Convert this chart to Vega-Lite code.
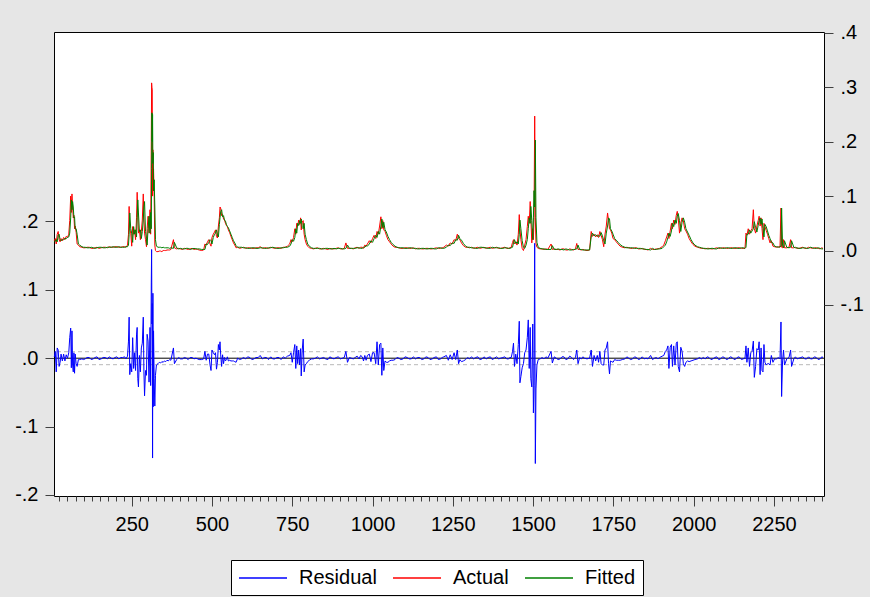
{
"$schema":"https://vega.github.io/schema/vega-lite/v6.json",
"width":770,"height":464,
"autosize":{"type":"none"},
"padding":{"left":54,"top":32,"right":46,"bottom":101},
"background":"#e6e6e6",
"config":{
 "font":"Liberation Sans",
 "view":{"fill":"white","stroke":"black","strokeWidth":1},
 "axis":{"domain":false,"grid":false,"labelFont":"Liberation Sans","labelFontSize":20,"labelColor":"black","tickColor":"#404040","tickWidth":1,"title":null},
 "legend":{"orient":"none","legendX":177,"legendY":528,"direction":"horizontal","columns":3,"strokeColor":"black","fillColor":"white","padding":7,"symbolType":"M-2.4,0L2.4,0","symbolSize":400,"symbolStrokeWidth":1.5,"symbolOffset":14,"labelFont":"Liberation Sans","labelFontSize":20,"labelColor":"black","labelOffset":25,"columnPadding":13,"labelLimit":0}
},
"data":{"values":[
{"t":9,"a":0.018,"f":0.016,"r":0.002},{"t":12,"a":0.022,"f":0.017,"r":0.010},{"t":15,"a":0.012,"f":0.020,"r":-0.020},{"t":18,"a":0.030,"f":0.016,"r":0.015},{"t":21,"a":0.035,"f":0.028,"r":0.012},{"t":24,"a":0.020,"f":0.030,"r":-0.012},{"t":27,"a":0.016,"f":0.020,"r":-0.006},{"t":30,"a":0.022,"f":0.018,"r":0.006},{"t":34,"a":0.018,"f":0.020,"r":-0.004},{"t":38,"a":0.024,"f":0.020,"r":0.006},{"t":42,"a":0.020,"f":0.022,"r":-0.004},{"t":46,"a":0.026,"f":0.022,"r":0.005},{"t":50,"a":0.024,"f":0.024,"r":0.000},{"t":54,"a":0.030,"f":0.025,"r":0.008},{"t":57,"a":0.055,"f":0.032,"r":0.030},{"t":60,"a":0.100,"f":0.060,"r":0.044},{"t":62,"a":0.070,"f":0.093,"r":-0.014},{"t":64,"a":0.104,"f":0.075,"r":0.040},{"t":66,"a":0.080,"f":0.090,"r":-0.010},{"t":68,"a":0.060,"f":0.080,"r":-0.020},{"t":70,"a":0.065,"f":0.060,"r":0.008},{"t":72,"a":0.040,"f":0.062,"r":-0.022},{"t":74,"a":0.045,"f":0.040,"r":0.006},{"t":77,"a":0.033,"f":0.040,"r":-0.008},{"t":80,"a":0.012,"f":0.030,"r":-0.012},{"t":84,"a":0.010,"f":0.012,"r":-0.002},{"t":88,"a":0.007,"f":0.010,"r":-0.002},{"t":95,"a":0.006,"f":0.007,"r":-0.001},
{"t":100,"a":0.005,"f":0.006,"r":-0.002},{"t":105,"a":0.005,"f":0.006,"r":-0.001},{"t":111,"a":0.006,"f":0.005,"r":0.001},{"t":118,"a":0.006,"f":0.005,"r":0.001},{"t":124,"a":0.004,"f":0.006,"r":-0.002},{"t":130,"a":0.004,"f":0.005,"r":-0.001},{"t":136,"a":0.005,"f":0.004,"r":0.001},{"t":142,"a":0.006,"f":0.005,"r":0.002},{"t":148,"a":0.004,"f":0.006,"r":-0.002},{"t":155,"a":0.005,"f":0.006,"r":-0.001},{"t":161,"a":0.006,"f":0.005,"r":0.001},{"t":168,"a":0.006,"f":0.005,"r":0.001},{"t":174,"a":0.005,"f":0.006,"r":-0.001},{"t":180,"a":0.007,"f":0.006,"r":0.002},{"t":186,"a":0.006,"f":0.006,"r":0.000},{"t":192,"a":0.006,"f":0.007,"r":-0.001},{"t":198,"a":0.007,"f":0.006,"r":0.001},{"t":204,"a":0.007,"f":0.006,"r":0.002},{"t":210,"a":0.006,"f":0.007,"r":-0.001},{"t":216,"a":0.006,"f":0.006,"r":0.001},{"t":222,"a":0.007,"f":0.006,"r":0.001},{"t":228,"a":0.007,"f":0.006,"r":0.002},
{"t":232,"a":0.006,"f":0.007,"r":-0.001},{"t":237,"a":0.010,"f":0.007,"r":0.003},{"t":240,"a":0.030,"f":0.010,"r":0.025},{"t":242,"a":0.081,"f":0.030,"r":0.060},{"t":244,"a":0.040,"f":0.069,"r":-0.024},{"t":247,"a":0.032,"f":0.040,"r":-0.008},{"t":250,"a":0.008,"f":0.032,"r":-0.020},{"t":253,"a":0.044,"f":0.015,"r":0.030},{"t":256,"a":0.030,"f":0.044,"r":-0.015},{"t":259,"a":0.038,"f":0.030,"r":0.008},{"t":262,"a":0.020,"f":0.038,"r":-0.018},{"t":265,"a":0.060,"f":0.025,"r":0.034},{"t":267,"a":0.107,"f":0.060,"r":0.045},{"t":269,"a":0.069,"f":0.093,"r":-0.030},{"t":271,"a":0.032,"f":0.069,"r":-0.042},{"t":274,"a":0.038,"f":0.035,"r":0.004},{"t":277,"a":0.020,"f":0.038,"r":-0.020},{"t":280,"a":0.035,"f":0.022,"r":0.015},{"t":283,"a":0.056,"f":0.035,"r":0.022},{"t":286,"a":0.104,"f":0.056,"r":0.060},{"t":288,"a":0.060,"f":0.080,"r":-0.020},{"t":290,"a":0.032,"f":0.090,"r":-0.055},{"t":293,"a":0.020,"f":0.035,"r":-0.018},{"t":296,"a":0.007,"f":0.022,"r":-0.025},{"t":298,"a":0.040,"f":0.010,"r":0.035},{"t":301,"a":0.063,"f":0.040,"r":0.025},{"t":304,"a":0.032,"f":0.063,"r":-0.035},{"t":307,"a":0.075,"f":0.032,"r":0.045},{"t":309,"a":0.030,"f":0.070,"r":-0.040},{"t":311,"a":0.200,"f":0.040,"r":0.110},{"t":312,"a":0.308,"f":0.150,"r":0.159},{"t":313,"a":0.300,"f":0.253,"r":0.050},{"t":314,"a":0.295,"f":0.200,"r":0.080},{"t":315,"a":0.100,"f":0.250,"r":-0.146},{"t":316,"a":0.185,"f":0.160,"r":0.095},{"t":317,"a":0.110,"f":0.180,"r":-0.071},{"t":318,"a":0.150,"f":0.110,"r":0.040},{"t":320,"a":0.100,"f":0.130,"r":-0.030},{"t":322,"a":0.010,"f":0.080,"r":-0.070},{"t":324,"a":0.000,"f":0.020,"r":-0.025},{"t":327,"a":-0.002,"f":0.008,"r":-0.010},
{"t":332,"a":-0.002,"f":0.006,"r":-0.008},{"t":336,"a":-0.001,"f":0.006,"r":-0.006},{"t":340,"a":-0.001,"f":0.006,"r":-0.007},{"t":344,"a":-0.002,"f":0.005,"r":-0.005},{"t":348,"a":0.000,"f":0.006,"r":-0.006},{"t":352,"a":0.000,"f":0.005,"r":-0.004},{"t":356,"a":0.000,"f":0.005,"r":-0.005},{"t":360,"a":0.001,"f":0.005,"r":-0.003},{"t":364,"a":0.001,"f":0.005,"r":-0.004},{"t":368,"a":0.001,"f":0.004,"r":-0.002},{"t":372,"a":0.002,"f":0.005,"r":-0.003},{"t":380,"a":0.020,"f":0.004,"r":0.015},{"t":383,"a":0.005,"f":0.015,"r":-0.008},{"t":390,"a":0.003,"f":0.005,"r":-0.002},{"t":396,"a":0.004,"f":0.003,"r":0.001},{"t":402,"a":0.003,"f":0.004,"r":-0.001},{"t":408,"a":0.002,"f":0.003,"r":-0.001},{"t":414,"a":0.004,"f":0.003,"r":0.001},{"t":420,"a":0.003,"f":0.004,"r":0.000},{"t":426,"a":0.002,"f":0.004,"r":-0.002},{"t":432,"a":0.003,"f":0.002,"r":0.001},{"t":438,"a":0.004,"f":0.003,"r":0.001},{"t":444,"a":0.002,"f":0.004,"r":-0.001},{"t":450,"a":0.003,"f":0.003,"r":0.000},{"t":455,"a":0.002,"f":0.003,"r":-0.001},{"t":460,"a":0.001,"f":0.003,"r":-0.002},{"t":468,"a":0.000,"f":0.002,"r":-0.002},
{"t":474,"a":0.001,"f":0.002,"r":-0.001},{"t":478,"a":0.012,"f":0.002,"r":0.010},{"t":482,"a":0.010,"f":0.012,"r":-0.003},{"t":486,"a":0.016,"f":0.011,"r":0.006},{"t":490,"a":0.020,"f":0.015,"r":0.006},{"t":494,"a":0.012,"f":0.020,"r":-0.010},{"t":497,"a":0.008,"f":0.018,"r":-0.018},{"t":500,"a":0.024,"f":0.012,"r":0.012},{"t":504,"a":0.030,"f":0.024,"r":0.008},{"t":508,"a":0.034,"f":0.030,"r":0.005},{"t":511,"a":0.038,"f":0.032,"r":0.008},{"t":514,"a":0.026,"f":0.038,"r":-0.016},{"t":517,"a":0.023,"f":0.028,"r":-0.006},{"t":520,"a":0.045,"f":0.025,"r":0.020},{"t":523,"a":0.060,"f":0.048,"r":0.012},{"t":525,"a":0.080,"f":0.060,"r":0.024},{"t":527,"a":0.078,"f":0.071,"r":0.006},{"t":530,"a":0.064,"f":0.075,"r":-0.012},{"t":533,"a":0.066,"f":0.062,"r":0.005},{"t":536,"a":0.058,"f":0.064,"r":-0.008},{"t":539,"a":0.056,"f":0.056,"r":0.001},{"t":542,"a":0.050,"f":0.054,"r":-0.004},{"t":545,"a":0.046,"f":0.048,"r":-0.002},{"t":548,"a":0.044,"f":0.044,"r":0.002},{"t":551,"a":0.038,"f":0.042,"r":-0.004},{"t":555,"a":0.033,"f":0.036,"r":-0.003},{"t":559,"a":0.026,"f":0.030,"r":-0.004},{"t":563,"a":0.020,"f":0.024,"r":-0.004},{"t":567,"a":0.014,"f":0.018,"r":-0.004},{"t":571,"a":0.010,"f":0.014,"r":-0.005},{"t":575,"a":0.005,"f":0.009,"r":-0.006},{"t":580,"a":0.006,"f":0.006,"r":0.000},
{"t":586,"a":0.004,"f":0.006,"r":-0.002},{"t":592,"a":0.005,"f":0.006,"r":-0.001},{"t":598,"a":0.006,"f":0.005,"r":0.001},{"t":605,"a":0.004,"f":0.005,"r":-0.001},{"t":611,"a":0.005,"f":0.004,"r":0.002},{"t":618,"a":0.005,"f":0.004,"r":0.001},{"t":624,"a":0.004,"f":0.005,"r":-0.002},{"t":631,"a":0.004,"f":0.005,"r":-0.001},{"t":637,"a":0.005,"f":0.004,"r":0.001},{"t":644,"a":0.005,"f":0.004,"r":0.001},{"t":650,"a":0.007,"f":0.005,"r":0.004},{"t":657,"a":0.004,"f":0.005,"r":-0.001},{"t":663,"a":0.005,"f":0.004,"r":0.001},{"t":670,"a":0.005,"f":0.004,"r":0.001},{"t":676,"a":0.004,"f":0.005,"r":-0.002},{"t":683,"a":0.006,"f":0.005,"r":0.002},{"t":689,"a":0.005,"f":0.006,"r":-0.001},{"t":696,"a":0.004,"f":0.005,"r":-0.001},{"t":702,"a":0.005,"f":0.004,"r":0.001},{"t":709,"a":0.005,"f":0.004,"r":0.001},{"t":715,"a":0.004,"f":0.005,"r":-0.002},{"t":722,"a":0.006,"f":0.005,"r":0.002},{"t":728,"a":0.006,"f":0.006,"r":0.000},{"t":735,"a":0.008,"f":0.006,"r":0.003},
{"t":742,"a":0.012,"f":0.008,"r":0.004},{"t":746,"a":0.020,"f":0.012,"r":0.008},{"t":750,"a":0.016,"f":0.020,"r":-0.006},{"t":754,"a":0.024,"f":0.017,"r":0.008},{"t":758,"a":0.040,"f":0.024,"r":0.020},{"t":761,"a":0.030,"f":0.040,"r":-0.015},{"t":764,"a":0.050,"f":0.032,"r":0.018},{"t":767,"a":0.045,"f":0.050,"r":-0.008},{"t":770,"a":0.056,"f":0.046,"r":0.012},{"t":773,"a":0.048,"f":0.055,"r":-0.010},{"t":776,"a":0.060,"f":0.050,"r":0.014},{"t":778,"a":0.038,"f":0.058,"r":-0.026},{"t":781,"a":0.052,"f":0.042,"r":0.012},{"t":784,"a":0.055,"f":0.040,"r":0.028},{"t":787,"a":0.030,"f":0.050,"r":-0.020},{"t":790,"a":0.020,"f":0.030,"r":-0.010},{"t":794,"a":0.012,"f":0.020,"r":-0.008},{"t":798,"a":0.008,"f":0.012,"r":-0.005},{"t":803,"a":0.005,"f":0.008,"r":-0.003},{"t":810,"a":0.004,"f":0.005,"r":-0.001},
{"t":816,"a":0.003,"f":0.004,"r":-0.001},{"t":822,"a":0.004,"f":0.004,"r":0.000},{"t":828,"a":0.005,"f":0.004,"r":0.002},{"t":835,"a":0.003,"f":0.004,"r":-0.001},{"t":841,"a":0.003,"f":0.003,"r":0.000},{"t":848,"a":0.004,"f":0.003,"r":0.001},{"t":854,"a":0.003,"f":0.004,"r":-0.001},{"t":861,"a":0.002,"f":0.004,"r":-0.002},{"t":867,"a":0.004,"f":0.003,"r":0.002},{"t":874,"a":0.003,"f":0.003,"r":0.000},{"t":880,"a":0.003,"f":0.004,"r":-0.001},{"t":887,"a":0.004,"f":0.003,"r":0.001},{"t":893,"a":0.005,"f":0.004,"r":0.002},{"t":900,"a":0.003,"f":0.004,"r":-0.001},{"t":906,"a":0.003,"f":0.003,"r":0.000},{"t":912,"a":0.004,"f":0.003,"r":0.001},{"t":917,"a":0.014,"f":0.004,"r":0.010},{"t":922,"a":0.004,"f":0.010,"r":-0.006},{"t":928,"a":0.004,"f":0.004,"r":0.001},{"t":934,"a":0.004,"f":0.004,"r":0.000},{"t":940,"a":0.003,"f":0.004,"r":-0.001},{"t":946,"a":0.005,"f":0.004,"r":0.001},{"t":952,"a":0.006,"f":0.005,"r":0.003},{"t":958,"a":0.004,"f":0.005,"r":-0.001},{"t":963,"a":0.006,"f":0.004,"r":0.004},{"t":968,"a":0.006,"f":0.004,"r":0.002},{"t":972,"a":0.004,"f":0.006,"r":-0.004},{"t":976,"a":0.010,"f":0.006,"r":0.004},{"t":980,"a":0.008,"f":0.009,"r":-0.003},
{"t":984,"a":0.012,"f":0.008,"r":0.004},{"t":990,"a":0.018,"f":0.012,"r":0.006},{"t":995,"a":0.014,"f":0.018,"r":-0.005},{"t":1000,"a":0.022,"f":0.015,"r":0.008},{"t":1005,"a":0.028,"f":0.022,"r":0.008},{"t":1010,"a":0.022,"f":0.028,"r":-0.008},{"t":1014,"a":0.035,"f":0.024,"r":0.024},{"t":1018,"a":0.030,"f":0.035,"r":-0.010},{"t":1022,"a":0.045,"f":0.030,"r":0.020},{"t":1026,"a":0.062,"f":0.045,"r":0.022},{"t":1029,"a":0.040,"f":0.058,"r":-0.025},{"t":1032,"a":0.055,"f":0.042,"r":0.015},{"t":1035,"a":0.038,"f":0.052,"r":-0.018},{"t":1039,"a":0.035,"f":0.038,"r":-0.004},{"t":1043,"a":0.028,"f":0.034,"r":-0.006},{"t":1048,"a":0.020,"f":0.026,"r":-0.006},{"t":1053,"a":0.016,"f":0.020,"r":-0.004},{"t":1058,"a":0.012,"f":0.015,"r":-0.003},{"t":1064,"a":0.008,"f":0.011,"r":-0.003},{"t":1070,"a":0.006,"f":0.008,"r":-0.002},
{"t":1076,"a":0.006,"f":0.006,"r":0.001},{"t":1082,"a":0.005,"f":0.005,"r":0.000},{"t":1088,"a":0.004,"f":0.005,"r":-0.002},{"t":1095,"a":0.004,"f":0.005,"r":-0.001},{"t":1101,"a":0.005,"f":0.004,"r":0.002},{"t":1108,"a":0.005,"f":0.004,"r":0.001},{"t":1114,"a":0.004,"f":0.005,"r":-0.001},{"t":1121,"a":0.004,"f":0.005,"r":-0.001},{"t":1127,"a":0.005,"f":0.004,"r":0.002},{"t":1134,"a":0.003,"f":0.004,"r":-0.001},{"t":1140,"a":0.004,"f":0.003,"r":0.001},{"t":1147,"a":0.004,"f":0.003,"r":0.001},{"t":1153,"a":0.003,"f":0.004,"r":-0.002},{"t":1160,"a":0.003,"f":0.004,"r":-0.001},{"t":1166,"a":0.004,"f":0.003,"r":0.002},{"t":1173,"a":0.004,"f":0.003,"r":0.001},{"t":1179,"a":0.003,"f":0.004,"r":-0.002},{"t":1186,"a":0.003,"f":0.004,"r":-0.001},{"t":1192,"a":0.004,"f":0.003,"r":0.001},{"t":1199,"a":0.005,"f":0.003,"r":0.002},{"t":1205,"a":0.004,"f":0.005,"r":-0.002},{"t":1212,"a":0.004,"f":0.005,"r":-0.001},{"t":1217,"a":0.005,"f":0.004,"r":0.001},{"t":1222,"a":0.006,"f":0.004,"r":0.002},
{"t":1230,"a":0.010,"f":0.006,"r":0.004},{"t":1236,"a":0.008,"f":0.010,"r":-0.003},{"t":1242,"a":0.014,"f":0.009,"r":0.005},{"t":1248,"a":0.012,"f":0.014,"r":-0.002},{"t":1254,"a":0.020,"f":0.013,"r":0.008},{"t":1259,"a":0.018,"f":0.020,"r":-0.002},{"t":1264,"a":0.030,"f":0.019,"r":0.012},{"t":1268,"a":0.022,"f":0.028,"r":-0.008},{"t":1272,"a":0.020,"f":0.022,"r":-0.002},{"t":1277,"a":0.014,"f":0.019,"r":-0.005},{"t":1283,"a":0.009,"f":0.013,"r":-0.004},{"t":1290,"a":0.006,"f":0.008,"r":-0.002},
{"t":1296,"a":0.006,"f":0.006,"r":0.001},{"t":1302,"a":0.005,"f":0.006,"r":-0.001},{"t":1308,"a":0.006,"f":0.005,"r":0.002},{"t":1315,"a":0.004,"f":0.005,"r":-0.001},{"t":1321,"a":0.005,"f":0.004,"r":0.001},{"t":1328,"a":0.006,"f":0.004,"r":0.002},{"t":1334,"a":0.004,"f":0.006,"r":-0.002},{"t":1341,"a":0.005,"f":0.006,"r":-0.001},{"t":1347,"a":0.006,"f":0.005,"r":0.002},{"t":1354,"a":0.004,"f":0.005,"r":-0.001},{"t":1360,"a":0.005,"f":0.004,"r":0.001},{"t":1367,"a":0.006,"f":0.004,"r":0.002},{"t":1373,"a":0.004,"f":0.006,"r":-0.002},{"t":1380,"a":0.005,"f":0.005,"r":0.000},{"t":1386,"a":0.006,"f":0.005,"r":0.002},{"t":1393,"a":0.004,"f":0.005,"r":-0.001},{"t":1399,"a":0.004,"f":0.004,"r":0.000},{"t":1406,"a":0.005,"f":0.004,"r":0.001},{"t":1412,"a":0.006,"f":0.005,"r":0.002},{"t":1418,"a":0.004,"f":0.005,"r":-0.001},{"t":1423,"a":0.004,"f":0.004,"r":-0.001},{"t":1428,"a":0.005,"f":0.004,"r":0.001},
{"t":1432,"a":0.006,"f":0.005,"r":0.001},{"t":1436,"a":0.015,"f":0.006,"r":0.010},{"t":1439,"a":0.020,"f":0.014,"r":0.022},{"t":1442,"a":0.012,"f":0.020,"r":-0.012},{"t":1446,"a":0.016,"f":0.013,"r":0.006},{"t":1450,"a":0.010,"f":0.016,"r":-0.008},{"t":1454,"a":0.030,"f":0.012,"r":0.020},{"t":1457,"a":0.066,"f":0.030,"r":0.054},{"t":1459,"a":0.040,"f":0.056,"r":-0.036},{"t":1462,"a":0.020,"f":0.040,"r":-0.027},{"t":1466,"a":0.004,"f":0.018,"r":-0.014},{"t":1470,"a":0.000,"f":0.006,"r":-0.008},{"t":1474,"a":0.010,"f":0.004,"r":0.008},{"t":1478,"a":0.020,"f":0.010,"r":0.012},{"t":1482,"a":0.044,"f":0.020,"r":0.030},{"t":1485,"a":0.063,"f":0.040,"r":0.056},{"t":1488,"a":0.050,"f":0.060,"r":-0.015},{"t":1491,"a":0.090,"f":0.050,"r":0.045},{"t":1493,"a":0.060,"f":0.081,"r":-0.030},{"t":1496,"a":0.014,"f":0.055,"r":-0.042},{"t":1499,"a":0.040,"f":0.020,"r":0.050},{"t":1501,"a":0.020,"f":0.060,"r":-0.080},{"t":1503,"a":0.060,"f":0.110,"r":-0.040},{"t":1505,"a":0.247,"f":0.080,"r":0.168},{"t":1507,"a":0.060,"f":0.203,"r":-0.154},{"t":1509,"a":0.013,"f":0.060,"r":-0.045},{"t":1512,"a":0.006,"f":0.015,"r":-0.010},{"t":1516,"a":0.004,"f":0.006,"r":-0.002},{"t":1522,"a":0.003,"f":0.004,"r":-0.001},
{"t":1528,"a":0.003,"f":0.003,"r":0.001},{"t":1534,"a":0.002,"f":0.003,"r":-0.001},{"t":1540,"a":0.003,"f":0.002,"r":0.002},{"t":1546,"a":0.002,"f":0.002,"r":0.000},{"t":1556,"a":0.012,"f":0.002,"r":0.010},{"t":1560,"a":0.002,"f":0.009,"r":-0.007},{"t":1566,"a":0.003,"f":0.002,"r":0.002},{"t":1572,"a":0.002,"f":0.002,"r":0.000},{"t":1578,"a":0.002,"f":0.003,"r":-0.002},{"t":1584,"a":0.001,"f":0.002,"r":-0.001},{"t":1590,"a":0.003,"f":0.002,"r":0.002},{"t":1596,"a":0.003,"f":0.001,"r":0.002},{"t":1602,"a":0.001,"f":0.003,"r":-0.002},{"t":1608,"a":0.001,"f":0.002,"r":-0.001},{"t":1614,"a":0.003,"f":0.001,"r":0.003},{"t":1620,"a":0.002,"f":0.001,"r":0.001},{"t":1626,"a":0.001,"f":0.002,"r":-0.002},{"t":1632,"a":0.003,"f":0.002,"r":0.001},{"t":1636,"a":0.013,"f":0.003,"r":0.012},{"t":1640,"a":0.002,"f":0.010,"r":-0.008},{"t":1645,"a":0.002,"f":0.002,"r":0.001},{"t":1650,"a":0.001,"f":0.002,"r":-0.001},{"t":1655,"a":0.002,"f":0.001,"r":0.002},{"t":1660,"a":0.001,"f":0.001,"r":0.000},{"t":1668,"a":0.000,"f":0.001,"r":-0.001},
{"t":1676,"a":0.001,"f":0.001,"r":0.000},{"t":1681,"a":0.035,"f":0.025,"r":0.012},{"t":1685,"a":0.026,"f":0.032,"r":-0.012},{"t":1690,"a":0.030,"f":0.027,"r":0.004},{"t":1695,"a":0.025,"f":0.029,"r":-0.004},{"t":1700,"a":0.029,"f":0.026,"r":0.004},{"t":1704,"a":0.024,"f":0.028,"r":-0.006},{"t":1708,"a":0.035,"f":0.026,"r":0.010},{"t":1712,"a":0.028,"f":0.033,"r":-0.008},{"t":1716,"a":0.020,"f":0.027,"r":-0.010},{"t":1720,"a":0.007,"f":0.018,"r":-0.010},{"t":1724,"a":0.030,"f":0.012,"r":0.012},{"t":1728,"a":0.045,"f":0.032,"r":0.015},{"t":1732,"a":0.069,"f":0.045,"r":0.024},{"t":1735,"a":0.055,"f":0.060,"r":-0.008},{"t":1738,"a":0.040,"f":0.058,"r":-0.023},{"t":1741,"a":0.038,"f":0.040,"r":-0.004},{"t":1745,"a":0.032,"f":0.036,"r":-0.005},{"t":1749,"a":0.022,"f":0.030,"r":-0.006},{"t":1754,"a":0.020,"f":0.022,"r":-0.002},{"t":1759,"a":0.016,"f":0.019,"r":-0.003},{"t":1765,"a":0.012,"f":0.015,"r":-0.003},{"t":1771,"a":0.008,"f":0.011,"r":-0.003},{"t":1778,"a":0.006,"f":0.008,"r":-0.002},{"t":1786,"a":0.005,"f":0.006,"r":-0.001},
{"t":1792,"a":0.006,"f":0.005,"r":0.002},{"t":1798,"a":0.005,"f":0.005,"r":0.000},{"t":1804,"a":0.004,"f":0.005,"r":-0.002},{"t":1810,"a":0.004,"f":0.005,"r":-0.001},{"t":1816,"a":0.005,"f":0.004,"r":0.002},{"t":1822,"a":0.005,"f":0.004,"r":0.001},{"t":1828,"a":0.003,"f":0.004,"r":-0.002},{"t":1834,"a":0.003,"f":0.004,"r":-0.001},{"t":1840,"a":0.004,"f":0.003,"r":0.002},{"t":1846,"a":0.002,"f":0.003,"r":-0.001},{"t":1852,"a":0.002,"f":0.002,"r":0.000},{"t":1858,"a":0.001,"f":0.002,"r":-0.001},{"t":1866,"a":0.004,"f":0.001,"r":0.004},{"t":1872,"a":0.002,"f":0.004,"r":-0.002},{"t":1878,"a":0.002,"f":0.002,"r":0.000},{"t":1884,"a":0.003,"f":0.002,"r":0.001},{"t":1889,"a":0.003,"f":0.003,"r":-0.001},{"t":1894,"a":0.004,"f":0.003,"r":0.001},
{"t":1902,"a":0.007,"f":0.004,"r":0.003},{"t":1907,"a":0.010,"f":0.007,"r":0.004},{"t":1912,"a":0.018,"f":0.010,"r":0.010},{"t":1916,"a":0.025,"f":0.016,"r":0.012},{"t":1920,"a":0.032,"f":0.024,"r":0.018},{"t":1923,"a":0.022,"f":0.032,"r":-0.015},{"t":1927,"a":0.036,"f":0.026,"r":0.016},{"t":1931,"a":0.050,"f":0.036,"r":0.020},{"t":1934,"a":0.040,"f":0.050,"r":-0.012},{"t":1938,"a":0.056,"f":0.044,"r":0.018},{"t":1942,"a":0.048,"f":0.056,"r":-0.010},{"t":1946,"a":0.065,"f":0.050,"r":0.022},{"t":1949,"a":0.072,"f":0.063,"r":0.024},{"t":1952,"a":0.060,"f":0.068,"r":-0.012},{"t":1956,"a":0.032,"f":0.055,"r":-0.020},{"t":1960,"a":0.050,"f":0.035,"r":0.016},{"t":1964,"a":0.060,"f":0.052,"r":0.010},{"t":1968,"a":0.055,"f":0.060,"r":-0.008},{"t":1972,"a":0.040,"f":0.052,"r":-0.012},{"t":1976,"a":0.036,"f":0.040,"r":-0.006},{"t":1981,"a":0.030,"f":0.034,"r":-0.004},{"t":1986,"a":0.022,"f":0.028,"r":-0.005},{"t":1992,"a":0.016,"f":0.020,"r":-0.004},{"t":1998,"a":0.011,"f":0.014,"r":-0.003},{"t":2004,"a":0.008,"f":0.010,"r":-0.002},{"t":2012,"a":0.006,"f":0.007,"r":-0.001},
{"t":2018,"a":0.005,"f":0.006,"r":0.001},{"t":2024,"a":0.004,"f":0.005,"r":-0.001},{"t":2030,"a":0.004,"f":0.004,"r":0.001},{"t":2036,"a":0.003,"f":0.004,"r":-0.001},{"t":2042,"a":0.004,"f":0.003,"r":0.002},{"t":2048,"a":0.004,"f":0.003,"r":0.001},{"t":2054,"a":0.003,"f":0.004,"r":-0.002},{"t":2060,"a":0.003,"f":0.004,"r":-0.001},{"t":2066,"a":0.004,"f":0.003,"r":0.001},{"t":2072,"a":0.005,"f":0.003,"r":0.002},{"t":2078,"a":0.004,"f":0.005,"r":-0.002},{"t":2084,"a":0.004,"f":0.005,"r":-0.001},{"t":2090,"a":0.005,"f":0.004,"r":0.002},{"t":2096,"a":0.005,"f":0.004,"r":0.001},{"t":2102,"a":0.004,"f":0.005,"r":-0.002},{"t":2108,"a":0.004,"f":0.005,"r":-0.001},{"t":2114,"a":0.005,"f":0.004,"r":0.002},{"t":2120,"a":0.005,"f":0.004,"r":0.001},{"t":2126,"a":0.004,"f":0.005,"r":-0.002},{"t":2132,"a":0.004,"f":0.005,"r":-0.001},{"t":2138,"a":0.005,"f":0.004,"r":0.002},{"t":2144,"a":0.005,"f":0.004,"r":0.001},{"t":2149,"a":0.004,"f":0.005,"r":-0.002},{"t":2154,"a":0.004,"f":0.005,"r":-0.001},
{"t":2160,"a":0.004,"f":0.004,"r":0.000},{"t":2163,"a":0.032,"f":0.006,"r":0.018},{"t":2166,"a":0.028,"f":0.030,"r":-0.006},{"t":2170,"a":0.040,"f":0.030,"r":0.015},{"t":2174,"a":0.030,"f":0.038,"r":-0.012},{"t":2178,"a":0.036,"f":0.032,"r":0.008},{"t":2182,"a":0.040,"f":0.036,"r":0.010},{"t":2186,"a":0.075,"f":0.040,"r":0.025},{"t":2189,"a":0.040,"f":0.053,"r":-0.028},{"t":2193,"a":0.032,"f":0.042,"r":-0.012},{"t":2197,"a":0.045,"f":0.034,"r":0.014},{"t":2201,"a":0.055,"f":0.046,"r":0.012},{"t":2204,"a":0.063,"f":0.055,"r":0.024},{"t":2207,"a":0.045,"f":0.060,"r":-0.024},{"t":2210,"a":0.060,"f":0.048,"r":0.015},{"t":2213,"a":0.040,"f":0.058,"r":-0.018},{"t":2216,"a":0.020,"f":0.040,"r":-0.020},{"t":2219,"a":0.050,"f":0.025,"r":0.020},{"t":2222,"a":0.044,"f":0.048,"r":-0.006},{"t":2226,"a":0.037,"f":0.044,"r":-0.010},{"t":2230,"a":0.030,"f":0.036,"r":-0.008},{"t":2234,"a":0.022,"f":0.028,"r":-0.008},{"t":2238,"a":0.014,"f":0.022,"r":-0.010},{"t":2242,"a":0.018,"f":0.015,"r":0.004},{"t":2247,"a":0.008,"f":0.014,"r":-0.006},{"t":2252,"a":0.007,"f":0.008,"r":-0.001},{"t":2258,"a":0.006,"f":0.007,"r":-0.001},{"t":2264,"a":0.007,"f":0.006,"r":0.001},{"t":2269,"a":0.006,"f":0.007,"r":-0.001},{"t":2272,"a":0.078,"f":0.008,"r":0.053},{"t":2274,"a":0.006,"f":0.078,"r":-0.056},{"t":2277,"a":0.005,"f":0.010,"r":-0.004},{"t":2280,"a":0.020,"f":0.005,"r":0.012},{"t":2283,"a":0.005,"f":0.018,"r":-0.010},{"t":2290,"a":0.005,"f":0.006,"r":-0.001},{"t":2297,"a":0.006,"f":0.005,"r":0.001},{"t":2302,"a":0.020,"f":0.006,"r":0.012},{"t":2305,"a":0.005,"f":0.018,"r":-0.012},{"t":2312,"a":0.005,"f":0.006,"r":-0.001},{"t":2317,"a":0.006,"f":0.005,"r":0.002},{"t":2322,"a":0.004,"f":0.005,"r":-0.001},{"t":2328,"a":0.004,"f":0.004,"r":0.000},{"t":2334,"a":0.005,"f":0.004,"r":0.001},{"t":2340,"a":0.006,"f":0.005,"r":0.002},{"t":2346,"a":0.004,"f":0.005,"r":-0.001},{"t":2352,"a":0.004,"f":0.004,"r":-0.001},{"t":2358,"a":0.006,"f":0.004,"r":0.002},{"t":2364,"a":0.005,"f":0.006,"r":-0.001},{"t":2370,"a":0.004,"f":0.005,"r":-0.001},{"t":2376,"a":0.005,"f":0.004,"r":0.002},{"t":2382,"a":0.005,"f":0.004,"r":0.001},{"t":2388,"a":0.004,"f":0.005,"r":-0.002},{"t":2394,"a":0.003,"f":0.004,"r":-0.001},{"t":2399,"a":0.005,"f":0.003,"r":0.002},{"t":2403,"a":0.004,"f":0.003,"r":0.001}
]},
"layer":[
 {"layer":[
  {"data":{"values":[{}]},"mark":{"type":"rule","color":"#b8b8b8","strokeDash":[4,3],"strokeWidth":1},
   "encoding":{"y":{"datum":0.0095,"type":"quantitative","scale":{"domain":[-0.2015,0.477],"nice":false,"zero":false},"axis":{"orient":"left","values":[-0.2,-0.1,0,0.1,0.2],"labelExpr":"datum.value < 0 ? '-' + replace(format(-datum.value,'.1f'),'0.','.') : replace(format(datum.value,'.1f'),'0.','.')","tickSize":9,"labelPadding":7}}}},
  {"data":{"values":[{}]},"mark":{"type":"rule","color":"#b8b8b8","strokeDash":[4,3],"strokeWidth":1},
   "encoding":{"y":{"datum":-0.0095,"type":"quantitative","scale":{"domain":[-0.2015,0.477],"nice":false,"zero":false},"axis":{"orient":"left","values":[-0.2,-0.1,0,0.1,0.2],"labelExpr":"datum.value < 0 ? '-' + replace(format(-datum.value,'.1f'),'0.','.') : replace(format(datum.value,'.1f'),'0.','.')","tickSize":9,"labelPadding":7}}}},
  {"data":{"values":[{}]},"mark":{"type":"rule","color":"black","strokeWidth":1},
   "encoding":{"y":{"datum":0,"type":"quantitative","scale":{"domain":[-0.2015,0.477],"nice":false,"zero":false},"axis":{"orient":"left","values":[-0.2,-0.1,0,0.1,0.2],"labelExpr":"datum.value < 0 ? '-' + replace(format(-datum.value,'.1f'),'0.','.') : replace(format(datum.value,'.1f'),'0.','.')","tickSize":9,"labelPadding":7}}}},
  {"mark":{"type":"line","strokeWidth":1},
   "encoding":{
    "x":{"field":"t","type":"quantitative","scale":{"domain":[8,2406],"nice":false,"zero":false},"axis":{"values":[25,50,75,100,125,150,175,200,225,250,275,300,325,350,375,400,425,450,475,500,525,550,575,600,625,650,675,700,725,750,775,800,825,850,875,900,925,950,975,1000,1025,1050,1075,1100,1125,1150,1175,1200,1225,1250,1275,1300,1325,1350,1375,1400,1425,1450,1475,1500,1525,1550,1575,1600,1625,1650,1675,1700,1725,1750,1775,1800,1825,1850,1875,1900,1925,1950,1975,2000,2025,2050,2075,2100,2125,2150,2175,2200,2225,2250,2275,2300,2325,2350,2375,2400],"labelExpr":"datum.value % 250 === 0 ? format(datum.value,'d') : ''","tickSize":{"condition":{"test":"datum.value % 250 === 0","value":10},"value":5},"labelOverlap":false,"labelBound":false,"labelFlush":false,"labelPadding":8}},
    "y":{"field":"r","type":"quantitative","scale":{"domain":[-0.2015,0.477],"nice":false,"zero":false},"axis":{"orient":"left","values":[-0.2,-0.1,0,0.1,0.2],"labelExpr":"datum.value < 0 ? '-' + replace(format(-datum.value,'.1f'),'0.','.') : replace(format(datum.value,'.1f'),'0.','.')","tickSize":9,"labelPadding":7}},
    "color":{"datum":"Residual","type":"nominal","scale":{"domain":["Residual","Actual","Fitted"],"range":["#0000ff","#ff0000","#008000"]},"legend":{"title":null}}
   }}
 ]},
 {"layer":[
  {"mark":{"type":"line","strokeWidth":1},
   "encoding":{
    "x":{"field":"t","type":"quantitative","scale":{"domain":[8,2406],"nice":false,"zero":false},"axis":{"values":[25,50,75,100,125,150,175,200,225,250,275,300,325,350,375,400,425,450,475,500,525,550,575,600,625,650,675,700,725,750,775,800,825,850,875,900,925,950,975,1000,1025,1050,1075,1100,1125,1150,1175,1200,1225,1250,1275,1300,1325,1350,1375,1400,1425,1450,1475,1500,1525,1550,1575,1600,1625,1650,1675,1700,1725,1750,1775,1800,1825,1850,1875,1900,1925,1950,1975,2000,2025,2050,2075,2100,2125,2150,2175,2200,2225,2250,2275,2300,2325,2350,2375,2400],"labelExpr":"datum.value % 250 === 0 ? format(datum.value,'d') : ''","tickSize":{"condition":{"test":"datum.value % 250 === 0","value":10},"value":5},"labelOverlap":false,"labelBound":false,"labelFlush":false,"labelPadding":8}},
    "y":{"field":"a","type":"quantitative","scale":{"domain":[-0.451,0.4015],"nice":false,"zero":false},"axis":{"orient":"right","values":[-0.1,0,0.1,0.2,0.3,0.4],"labelExpr":"datum.value < 0 ? '-' + replace(format(-datum.value,'.1f'),'0.','.') : replace(format(datum.value,'.1f'),'0.','.')","tickSize":9,"labelPadding":7}},
    "color":{"datum":"Actual","type":"nominal","scale":{"domain":["Residual","Actual","Fitted"],"range":["#0000ff","#ff0000","#008000"]},"legend":{"title":null}}
   }},
  {"mark":{"type":"line","strokeWidth":1},
   "encoding":{
    "x":{"field":"t","type":"quantitative","scale":{"domain":[8,2406],"nice":false,"zero":false},"axis":{"values":[25,50,75,100,125,150,175,200,225,250,275,300,325,350,375,400,425,450,475,500,525,550,575,600,625,650,675,700,725,750,775,800,825,850,875,900,925,950,975,1000,1025,1050,1075,1100,1125,1150,1175,1200,1225,1250,1275,1300,1325,1350,1375,1400,1425,1450,1475,1500,1525,1550,1575,1600,1625,1650,1675,1700,1725,1750,1775,1800,1825,1850,1875,1900,1925,1950,1975,2000,2025,2050,2075,2100,2125,2150,2175,2200,2225,2250,2275,2300,2325,2350,2375,2400],"labelExpr":"datum.value % 250 === 0 ? format(datum.value,'d') : ''","tickSize":{"condition":{"test":"datum.value % 250 === 0","value":10},"value":5},"labelOverlap":false,"labelBound":false,"labelFlush":false,"labelPadding":8}},
    "y":{"field":"f","type":"quantitative","scale":{"domain":[-0.451,0.4015],"nice":false,"zero":false},"axis":{"orient":"right","values":[-0.1,0,0.1,0.2,0.3,0.4],"labelExpr":"datum.value < 0 ? '-' + replace(format(-datum.value,'.1f'),'0.','.') : replace(format(datum.value,'.1f'),'0.','.')","tickSize":9,"labelPadding":7}},
    "color":{"datum":"Fitted","type":"nominal","scale":{"domain":["Residual","Actual","Fitted"],"range":["#0000ff","#ff0000","#008000"]},"legend":{"title":null}}
   }}
 ]}
],
"resolve":{"scale":{"y":"independent"}}
}
